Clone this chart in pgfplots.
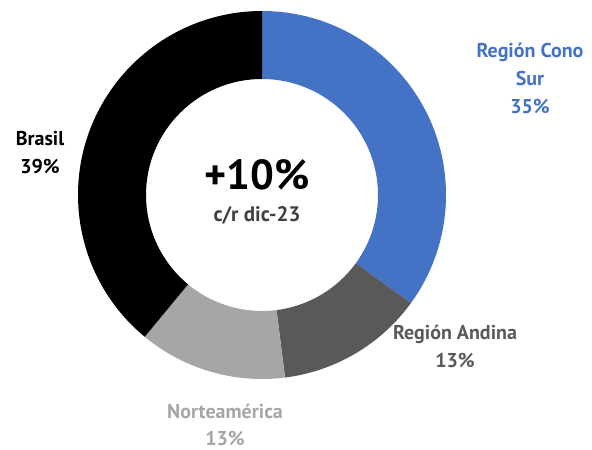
\documentclass[border=0pt]{standalone}
\usepackage{fontspec}
\setmainfont{PT Sans}
\usepackage{pgfplots}
\usepackage{pgfplotstable}
\pgfplotsset{compat=1.18}
\definecolor{cblue}{HTML}{4472C4}
\definecolor{cdark}{HTML}{595959}
\definecolor{clight}{HTML}{A6A6A6}
\definecolor{ctext}{HTML}{404040}
\pgfplotstableread{
name value
ConoSur 35
Andina 13
Norte 13
Brasil 39
}\shares
\newcommand\seg[3]{\fill[#3] (axis cs:{262+184*cos(#1)},{255+184*sin(#1)}) arc[start angle=#1,end angle=#2,radius=184pt] -- (axis cs:{262+116*cos(#2)},{255+116*sin(#2)}) arc[start angle=#2,end angle=#1,radius=116pt] -- cycle;}
\begin{document}
\begin{tikzpicture}
\pgfplotstablegetelem{0}{value}\of\shares \let\vA\pgfplotsretval
\pgfplotstablegetelem{1}{value}\of\shares \let\vB\pgfplotsretval
\pgfplotstablegetelem{2}{value}\of\shares \let\vC\pgfplotsretval
\pgfplotstablegetelem{3}{value}\of\shares \let\vD\pgfplotsretval
\pgfmathsetmacro\aA{90}
\pgfmathsetmacro\aB{\aA-3.6*\vA}
\pgfmathsetmacro\aC{\aB-3.6*\vB}
\pgfmathsetmacro\aD{\aC-3.6*\vC}
\pgfmathsetmacro\aE{\aD-3.6*\vD}
\begin{axis}[x=1pt,y=1pt,xmin=0,xmax=592,ymin=0,ymax=450,hide axis,clip=false]
\path (axis cs:0,0) rectangle (axis cs:592,450);
\seg{\aA}{\aB}{cblue}
\seg{\aB}{\aC}{cdark}
\seg{\aC}{\aD}{clight}
\seg{\aD}{\aE}{black}
\node[font=\bfseries\fontsize{20}{28}\selectfont,text=cblue,align=center] at (axis cs:530,372) {Región Cono\\Sur\\\vA\%};
\node[font=\bfseries\fontsize{20}{28}\selectfont,text=cdark,align=center] at (axis cs:455,104) {Región Andina\\\vB\%};
\node[font=\bfseries\fontsize{20}{27}\selectfont,text=clight,align=center] at (axis cs:225,25) {Norteamérica\\\vC\%};
\node[font=\bfseries\fontsize{20}{28}\selectfont,text=black,align=center] at (axis cs:40,297.5) {Brasil\\\vD\%};
\node[font=\bfseries\fontsize{42}{44}\selectfont,text=black] at (axis cs:257,275) {+10\%};
\node[font=\bfseries\fontsize{21}{24}\selectfont,text=ctext] at (axis cs:257,235) {c/r dic-23};
\end{axis}
\end{tikzpicture}
\end{document}
